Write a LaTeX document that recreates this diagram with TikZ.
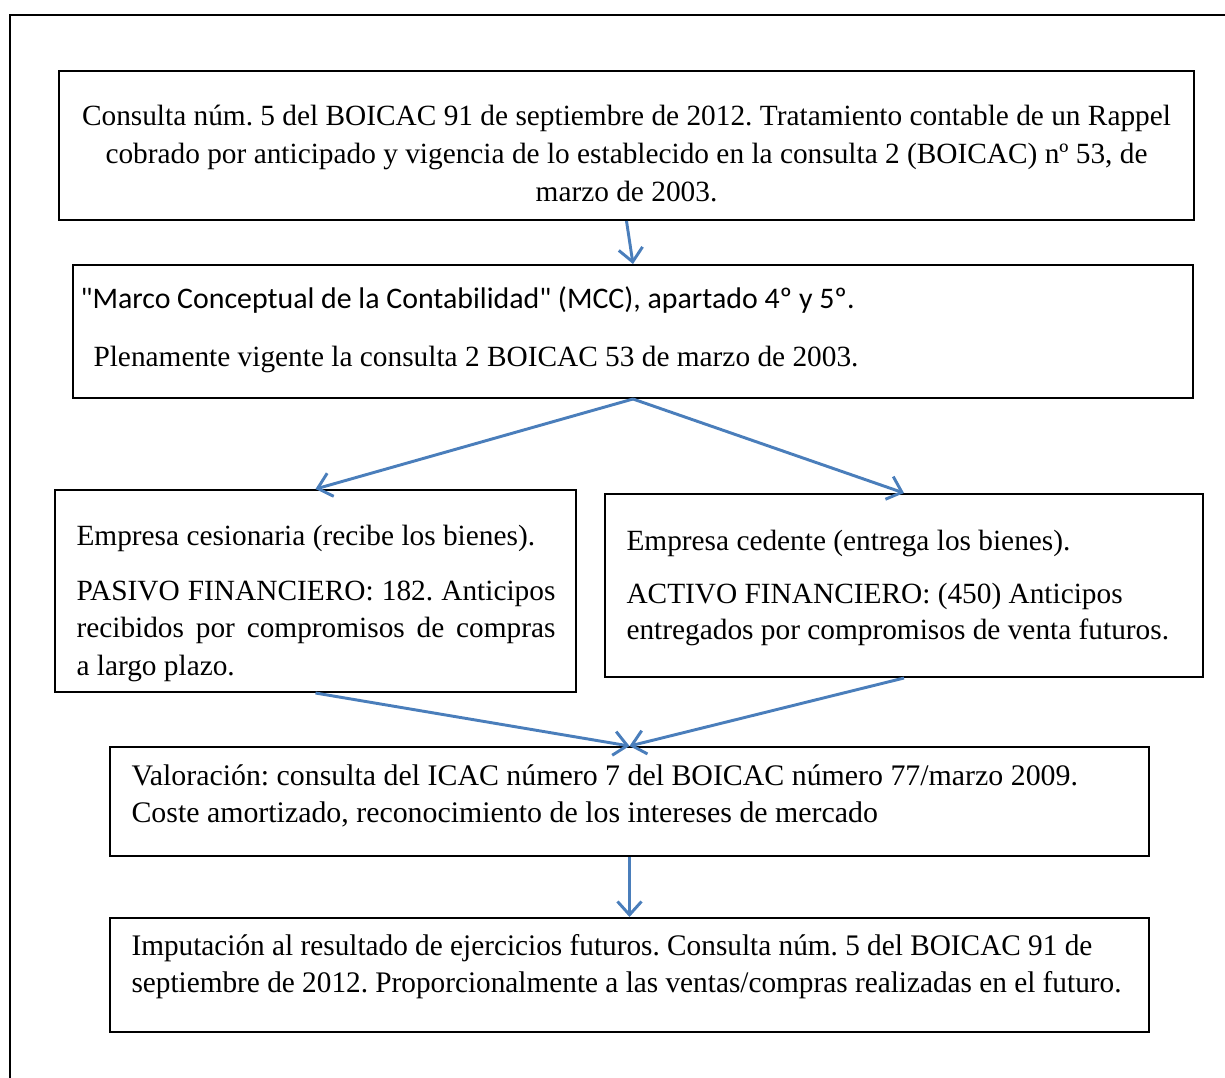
\documentclass[tikz,border=0pt]{standalone}
\usepackage{fontspec}
\setmainfont{Liberation Serif}
\newfontfamily\calibrifont{Carlito}
\usetikzlibrary{arrows.meta,fit}
\definecolor{arrblue}{HTML}{4A7EBB}
\frenchspacing
\begin{document}
\begin{tikzpicture}[x=0.375pt,y=-0.375pt,
  box/.style={draw=black,line width=0.75pt,inner sep=0pt},
  txt/.style={inner sep=0pt,anchor=base west,font=\fontsize{11}{14}\selectfont},
  wtxt/.style={txt,font=\fontsize{11.2}{14}\selectfont},
  ctxt/.style={txt,anchor=base},
  arr/.style={draw=arrblue,line width=1.1pt,-{Straight Barb[length=5pt,width=9pt]}}]
\useasboundingbox (0,0) rectangle (1225,1077);
% outer frame (extends past the right and bottom edges)
\begin{scope}
\clip (0,0) rectangle (1225,1077);
\draw[line width=0.75pt] (10,1100) -- (10,15) -- (1240,15);
\end{scope}
% box corners
\coordinate (b1nw) at (59,71);  \coordinate (b1se) at (1194,220);
\coordinate (b2nw) at (73,265); \coordinate (b2se) at (1193,398);
\coordinate (b3nw) at (55,490); \coordinate (b3se) at (576,692);
\coordinate (b4nw) at (605,494); \coordinate (b4se) at (1203,677);
\coordinate (b5nw) at (110,747); \coordinate (b5se) at (1149,856);
\coordinate (b6nw) at (110,918); \coordinate (b6se) at (1149,1032);
\node[box,fit=(b1nw)(b1se)] (b1) {};
\node[box,fit=(b2nw)(b2se)] (b2) {};
\node[box,fit=(b3nw)(b3se)] (b3) {};
\node[box,fit=(b4nw)(b4se)] (b4) {};
\node[box,fit=(b5nw)(b5se)] (b5) {};
\node[box,fit=(b6nw)(b6se)] (b6) {};
% texts
\node[ctxt] (t1a) at (626.5,125) {Consulta núm. 5 del BOICAC 91 de septiembre de 2012. Tratamiento contable de un Rappel};
\node[ctxt] (t1b) at (626.5,163) {cobrado por anticipado y vigencia de lo establecido en la consulta 2 (BOICAC) nº 53, de};
\node[ctxt] (t1c) at (626.5,201) {marzo de 2003.};
\node[txt,font=\calibrifont\fontsize{11.2}{14}\selectfont] (t2a) at (80,308) {"Marco Conceptual de la Contabilidad" (MCC), apartado 4º y 5º.};
\node[txt] (t2b) at (93,366) {Plenamente vigente la consulta 2 BOICAC 53 de marzo de 2003.};
\node[txt] (t3a) at (76,545) {Empresa cesionaria (recibe los bienes).};
\node[txt] (t3b) at (76,600) {\makebox[179.6pt][s]{PASIVO FINANCIERO: 182. Anticipos}};
\node[txt] (t3c) at (76,637) {\makebox[179.6pt][s]{recibidos por compromisos de compras}};
\node[txt] (t3d) at (76,675) {a largo plazo.};
\node[txt] (t4a) at (626,550) {Empresa cedente (entrega los bienes).};
\node[txt] (t4b) at (626,603) {ACTIVO FINANCIERO: (450) Anticipos};
\node[txt] (t4c) at (626,639) {entregados por compromisos de venta futuros.};
\node[wtxt] (t5a) at (131,785) {Valoración: consulta del ICAC número 7 del BOICAC número 77/marzo 2009.};
\node[wtxt] (t5b) at (131,822) {Coste amortizado, reconocimiento de los intereses de mercado};
\node[wtxt] (t6a) at (131,955) {\scalebox{0.98}[1]{Imputación al resultado de ejercicios futuros. Consulta núm. 5 del BOICAC 91 de}};
\node[wtxt] (t6b) at (131,992) {\scalebox{0.98}[1]{septiembre de 2012. Proporcionalmente a las ventas/compras realizadas en el futuro.}};
% connectors
\draw[arr] (b1.south) -- (b2.north);
\draw[arr] (b2.south) -- (b3.north);
\draw[arr] (b2.south) -- (b4.north);
\draw[arr] (b3.south) -- (b5.north);
\draw[arr] (b4.south) -- (b5.north);
\draw[arr] (b5.south) -- (b6.north);
\end{tikzpicture}
\end{document}
